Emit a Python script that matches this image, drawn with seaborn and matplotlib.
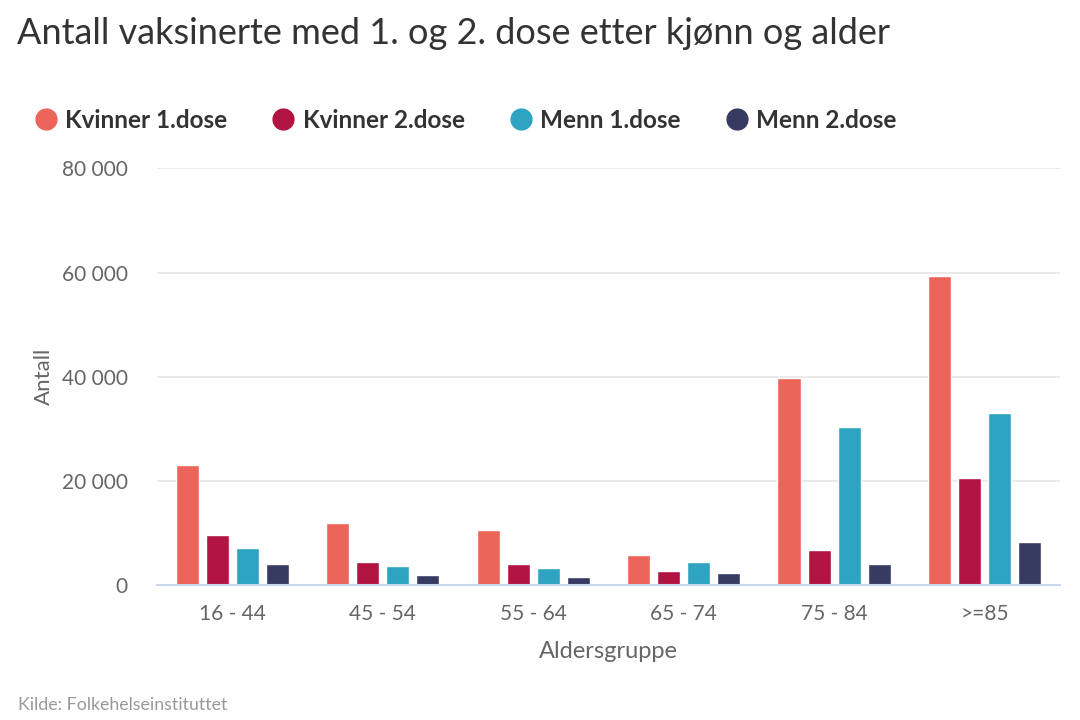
import pandas as pd
import matplotlib.pyplot as plt
import seaborn as sns
from matplotlib.lines import Line2D

# Data lest av fra figuren
aldersgrupper = ['16 - 44', '45 - 54', '55 - 64', '65 - 74', '75 - 84', '>=85']
kvinner_1 = [23100, 12000, 10600, 5800, 39700, 59400]
kvinner_2 = [9600, 4400, 4000, 2600, 6800, 20600]
menn_1 = [7100, 3650, 3300, 4400, 30400, 33100]
menn_2 = [4000, 1900, 1600, 2300, 4000, 8200]
serier = ['Kvinner 1.dose', 'Kvinner 2.dose', 'Menn 1.dose', 'Menn 2.dose']
farger = ['#ed645a', '#b11441', '#2ea4c2', '#383b61']

rader = []
for navn, verdier in zip(serier, [kvinner_1, kvinner_2, menn_1, menn_2]):
    for gruppe, v in zip(aldersgrupper, verdier):
        rader.append({'Aldersgruppe': gruppe, 'Serie': navn, 'Antall': v})
df = pd.DataFrame(rader)

sns.set_theme(style="white")
plt.rcParams['font.family'] = ['Lato', 'DejaVu Sans']

fig = plt.figure(figsize=(10.8, 7.2), dpi=100)
ax = fig.add_axes([0.1454, 0.1875, 0.836, 0.5787])

sns.barplot(data=df, x='Aldersgruppe', y='Antall', hue='Serie', hue_order=serier,
            palette=farger, width=0.8, gap=0.23, saturation=1, ax=ax, legend=False)

ax.set_ylim(0, 80000)
ax.set_xlim(-0.5, 5.5)
ax.set_yticks([0, 20000, 40000, 60000, 80000])
ax.set_yticklabels(['0', '20 000', '40 000', '60 000', '80 000'])
ax.yaxis.grid(True, color='#e6e6e6', linewidth=1.2)
ax.set_axisbelow(True)
for s in ['left', 'right', 'top']:
    ax.spines[s].set_visible(False)
ax.spines['bottom'].set_color('#ccd6eb')
ax.spines['bottom'].set_linewidth(1.5)
ax.tick_params(axis='y', length=0, pad=21, labelsize=15, labelcolor='#666666')
ax.tick_params(axis='x', length=0, pad=14, labelsize=15, labelcolor='#666666')
ax.set_xlabel('Aldersgruppe', fontsize=17, color='#666666', labelpad=12)
ax.set_ylabel('Antall', fontsize=16, color='#666666', labelpad=6)

fig.text(0.016, 0.953, 'Antall vaksinerte med 1. og 2. dose etter kjønn og alder',
         fontsize=26, color='#333333', va='center', ha='left')

handles = [Line2D([], [], marker='o', linestyle='', markersize=15,
                  markerfacecolor=c, markeredgecolor=c) for c in farger]
fig.legend(handles, serier, loc='center left', bbox_to_anchor=(0.011, 0.833), ncol=4,
           frameon=False, handletextpad=0.3, columnspacing=1.8, handlelength=1.0,
           prop={'size': 17.5, 'weight': 'bold'}, labelcolor='#333333')

fig.text(0.017, 0.021, 'Kilde: Folkehelseinstituttet', fontsize=12.8, color='#999999',
         va='center', ha='left')

fig.savefig('out.png', dpi=100)
plt.close()
